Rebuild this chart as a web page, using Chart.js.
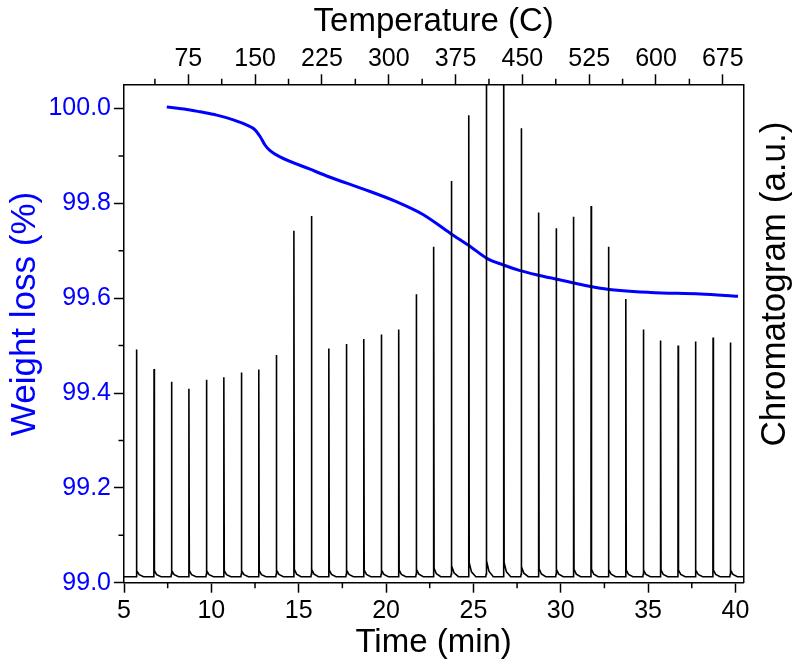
<!DOCTYPE html>
<html>
<head>
<meta charset="utf-8">
<title>TGA / chromatogram</title>
<script src="https://cdn.jsdelivr.net/npm/chart.js@4.4.1/dist/chart.umd.min.js"></script>
<style>
  html, body { margin: 0; padding: 0; background: #fff; }
  #wrap { width: 800px; height: 664px; }
</style>
</head>
<body>
<div id="wrap"><canvas id="tga-chart" width="800" height="664"></canvas></div>
<script>
/* TGA weight loss + chromatogram, time axis at bottom, temperature on top */
(function () {
  'use strict';

  var FONT = "'Liberation Sans', Arial, sans-serif";
  var BLUE = '#0000ff';

  // weight loss curve
  var weightTime = [7.45, 8.59, 9.35, 10.31, 11.26, 12.03, 12.5, 12.79, 13.07, 13.36, 13.93,
    15.65, 16.8, 18.71, 20.62, 22.14, 23.67, 24.82, 25.77, 26.72, 27.68, 28.64, 29.78,
    32.26, 35.13, 37.99, 40.15];
  var weightLoss = [100.003, 99.998, 99.993, 99.986, 99.976, 99.965, 99.955, 99.941, 99.923, 99.911, 99.898,
    99.872, 99.855, 99.830, 99.803, 99.776, 99.737, 99.709, 99.684, 99.670, 99.658, 99.649, 99.640,
    99.621, 99.612, 99.609, 99.604];

  // chromatogram peaks (a.u.)
  var peakTimes = [5.72, 6.72, 7.72, 8.72, 9.72, 10.72, 11.72, 12.72, 13.72, 14.73, 15.73,
    16.73, 17.73, 18.73, 19.73, 20.73, 21.73, 22.73, 23.74, 24.74, 25.74, 26.74, 27.74,
    28.74, 29.74, 30.74, 31.74, 32.74, 33.73, 34.73, 35.72, 36.72, 37.72, 38.72, 39.71];
  var peakHeights = [46.8, 42.9, 40.3, 38.9, 40.7, 41.2, 42.2, 42.8, 45.7, 70.6, 73.6,
    47.0, 47.9, 48.9, 49.8, 50.8, 57.9, 67.4, 80.6, 93.8, 115, 115, 91.2,
    74.3, 71.1, 73.4, 75.6, 67.4, 56.9, 50.8, 48.6, 47.6, 48.4, 49.2, 48.2];
  var peakTails = [1.2, 1.2, 1.2, 1.2, 1.2, 1.2, 1.2, 1.2, 1.3, 1.5, 1.5,
    1.3, 1.3, 1.3, 1.3, 1.3, 1.5, 1.7, 2.2, 2.8, 3.2, 2.8, 2.0,
    1.6, 1.5, 1.5, 1.5, 1.4, 1.3, 1.3, 1.3, 1.3, 1.3, 1.3, 1.3];
  var baseline = 1.2;

  // axis ticks
  var timeTicks = [5, 10, 15, 20, 25, 30, 35, 40];
  var timeMinor = [7.5, 12.5, 17.5, 22.5, 27.5, 32.5, 37.5];
  var tempTicks = [75, 150, 225, 300, 375, 450, 525, 600, 675];
  var tempMinor = [37.5, 112.5, 187.5, 262.5, 337.5, 412.5, 487.5, 562.5, 637.5];
  var weightTicks = [99.0, 99.2, 99.4, 99.6, 99.8, 100.0];
  var weightMinor = [99.1, 99.3, 99.5, 99.7, 99.9];

  function buildTrace() {
    var pts = [{ x: 5, y: baseline }];
    peakTimes.forEach(function (t, i) {
      pts.push({ x: t - 0.03, y: baseline });
      pts.push({ x: t - 0.01, y: baseline + 0.5 });
      pts.push({ x: t, y: peakHeights[i] });
      pts.push({ x: t + 0.02, y: baseline + peakTails[i] });
      pts.push({ x: t + 0.15, y: baseline + peakTails[i] * 0.35 });
      pts.push({ x: t + 0.4, y: baseline });
    });
    pts.push({ x: 40.45, y: baseline });
    return pts;
  }

  function fixTicks(list) {
    return function (scale) {
      scale.ticks = list.map(function (v) { return { value: v }; });
    };
  }

  function fixSize(key, val) {
    return function (scale) { scale[key] = val; };
  }

  // minor ticks + the two vertical axis titles (both read bottom-to-top)
  var extras = {
    id: 'extras',
    afterDraw: function (chart) {
      var ctx = chart.ctx, a = chart.chartArea, s = chart.scales;
      ctx.save();
      ctx.strokeStyle = '#000';
      ctx.lineWidth = 1.5;
      ctx.beginPath();
      timeMinor.forEach(function (v) {
        var px = s.x.getPixelForValue(v);
        ctx.moveTo(px, a.bottom); ctx.lineTo(px, a.bottom + 5.5);
      });
      tempMinor.forEach(function (v) {
        var px = s.x2.getPixelForValue(v);
        ctx.moveTo(px, a.top); ctx.lineTo(px, a.top - 5.5);
      });
      weightMinor.forEach(function (v) {
        var py = s.y.getPixelForValue(v);
        ctx.moveTo(a.left, py); ctx.lineTo(a.left - 5.5, py);
      });
      ctx.stroke();

      ctx.font = '35px ' + FONT;
      ctx.textAlign = 'center';
      ctx.textBaseline = 'middle';
      [['Weight loss (%)', BLUE, 25, 314], ['Chromatogram (a.u.)', '#000', 775, 284]].forEach(function (t) {
        ctx.save();
        ctx.translate(t[2], t[3]);
        ctx.rotate(-Math.PI / 2);
        ctx.fillStyle = t[1];
        ctx.fillText(t[0], 0, 0);
        ctx.restore();
      });
      ctx.restore();
    }
  };

  var tickGrid = { drawOnChartArea: false, tickLength: 10, tickWidth: 1.5, tickColor: '#000' };
  var frame = { color: '#000', width: 1.5 };

  new Chart(document.getElementById('tga-chart'), {
    type: 'line',
    data: {
      datasets: [{
        label: 'Chromatogram',
        data: buildTrace(),
        xAxisID: 'x',
        yAxisID: 'y2',
        borderColor: '#000',
        borderWidth: 1.6,
        pointRadius: 0,
        tension: 0,
        order: 0
      }, {
        label: 'Weight loss',
        data: weightTime.map(function (t, i) { return { x: t, y: weightLoss[i] }; }),
        xAxisID: 'x',
        yAxisID: 'y',
        borderColor: BLUE,
        borderWidth: 3,
        pointRadius: 0,
        cubicInterpolationMode: 'monotone',
        order: 1
      }]
    },
    options: {
      responsive: false,
      animation: false,
      events: [],
      layout: { padding: 0 },
      plugins: { legend: { display: false }, tooltip: { enabled: false } },
      scales: {
        x: {
          type: 'linear', position: 'bottom', min: 5, max: 40.45,
          afterBuildTicks: fixTicks(timeTicks),
          afterFit: fixSize('height', 81.3),
          ticks: { color: '#000', padding: 3, font: { family: FONT, size: 25 } },
          grid: tickGrid, border: frame,
          title: { display: true, text: 'Time (min)', color: '#000', padding: { bottom: 1 }, font: { family: FONT, size: 33 } }
        },
        x2: {
          type: 'linear', position: 'top', min: 2.8, max: 698,
          afterBuildTicks: fixTicks(tempTicks),
          afterFit: fixSize('height', 84.3),
          ticks: { color: '#000', padding: 0, font: { family: FONT, size: 25 } },
          grid: tickGrid, border: frame,
          title: { display: true, text: 'Temperature (C)', color: '#000', padding: { top: 2 }, font: { family: FONT, size: 33 } }
        },
        y: {
          type: 'linear', position: 'left', min: 99.0, max: 100.051,
          afterBuildTicks: fixTicks(weightTicks),
          afterFit: fixSize('width', 124),
          ticks: { color: BLUE, padding: 3, font: { family: FONT, size: 25 },
            callback: function (v) { return v.toFixed(1); } },
          grid: tickGrid, border: frame,
          title: { display: false }
        },
        y2: {
          type: 'linear', position: 'right', min: 0, max: 100,
          afterFit: fixSize('width', 56.7),
          ticks: { display: false },
          grid: { display: false }, border: frame,
          title: { display: false }
        }
      }
    },
    plugins: [extras]
  });
}());
</script>
</body>
</html>
